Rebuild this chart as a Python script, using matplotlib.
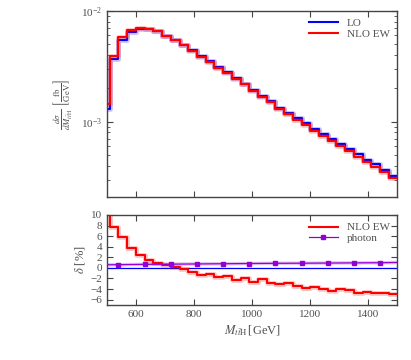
import matplotlib

matplotlib.use("Agg")
import matplotlib.pyplot as plt
import numpy as np
from matplotlib.ticker import FixedLocator, LogLocator, NullFormatter

plt.rcParams["font.family"] = ["Liberation Serif", "DejaVu Serif"]
plt.rcParams["mathtext.fontset"] = "stix"

# 30 GeV bins, first one cut by the x range
bin_edges = np.arange(480, 1501, 30)
lo_xsec = [1.29e-3, 3.66e-3, 5.50e-3, 6.49e-3, 6.89e-3, 6.82e-3, 6.53e-3, 5.95e-3, 5.49e-3, 4.91e-3,
           4.42e-3, 3.92e-3, 3.50e-3, 3.13e-3, 2.78e-3, 2.48e-3, 2.21e-3, 1.94e-3, 1.72e-3, 1.545e-3,
           1.34e-3, 1.205e-3, 1.076e-3, 9.78e-4, 8.61e-4, 7.79e-4, 7.05e-4, 6.28e-4, 5.63e-4, 5.07e-4,
           4.55e-4, 4.12e-4, 3.71e-4, 3.24e-4]
nlo_xsec = [1.46e-3, 3.94e-3, 5.82e-3, 6.73e-3, 7.06e-3, 6.92e-3, 6.59e-3, 5.98e-3, 5.50e-3, 4.90e-3,
            4.38e-3, 3.87e-3, 3.46e-3, 3.08e-3, 2.74e-3, 2.43e-3, 2.17e-3, 1.89e-3, 1.68e-3, 1.50e-3,
            1.30e-3, 1.17e-3, 1.04e-3, 9.4e-4, 8.3e-4, 7.48e-4, 6.74e-4, 6.03e-4, 5.40e-4, 4.83e-4,
            4.35e-4, 3.93e-4, 3.53e-4, 3.08e-4]
nlo_delta = [13.0, 7.7, 5.8, 3.7, 2.4, 1.5, 0.9, 0.45, 0.15, -0.15,
             -0.8, -1.3, -1.2, -1.75, -1.6, -2.2, -2.0, -2.7, -2.1, -2.9,
             -3.1, -2.9, -3.35, -3.85, -3.55, -4.0, -4.45, -4.0, -4.1, -4.7,
             -4.5, -4.7, -4.75, -4.9]
photon_x = [500, 540, 630, 720, 810, 900, 990, 1080, 1170, 1260, 1350, 1440, 1500]
photon_delta = [0.58, 0.60, 0.66, 0.70, 0.74, 0.78, 0.82, 0.86, 0.88, 0.91, 0.94, 0.97, 1.02]

BLUE = "#0000ff"
RED = "#ff0000"
PURPLE = "#9400d3"
FRAME = "#444444"
TEXT = "#505050"


def _step(ax, edges, vals, color, label=None, lw=1.5):
    y = np.append(vals, vals[-1])
    ax.step(edges, y, where="post", color=color, lw=lw + 2.0, alpha=0.22)
    ax.step(edges, y, where="post", color=color, lw=lw, label=label)


def _style(ax):
    for s in ax.spines.values():
        s.set_color(FRAME)
        s.set_linewidth(1.0)
    ax.tick_params(which="both", direction="in", top=True, right=True, colors=FRAME,
                   labelcolor=TEXT, labelsize=8)
    ax.tick_params(which="major", length=4)
    ax.tick_params(which="minor", length=2)


fig = plt.figure(figsize=(4.11, 3.6), dpi=100)
ax1 = fig.add_axes([0.260, 0.453, 0.707, 0.517])
ax2 = fig.add_axes([0.260, 0.153, 0.707, 0.250])

_step(ax1, bin_edges, lo_xsec, BLUE, "LO")
_step(ax1, bin_edges, nlo_xsec, RED, "NLO EW")
ax1.set_yscale("log")
ax1.set_xlim(500, 1500)
ax1.set_ylim(2.1e-4, 1e-2)
ax1.xaxis.set_major_locator(FixedLocator([600, 800, 1000, 1200, 1400]))
ax1.set_xticklabels([])
ax1.yaxis.set_major_locator(LogLocator(base=10, numticks=5))
ax1.yaxis.set_minor_locator(LogLocator(base=10, subs=np.arange(2, 10), numticks=10))
ax1.yaxis.set_minor_formatter(NullFormatter())
_style(ax1)
ax1.set_ylabel(r"$\frac{d\sigma}{dM_{t\bar{t}\mathrm{H}}}\;\left[\frac{\mathrm{fb}}{\mathrm{GeV}}\right]$",
               color=TEXT, fontsize=9, labelpad=4)
ax1.legend(loc="upper right", frameon=False, fontsize=8, handlelength=2.6,
           handletextpad=0.8, borderaxespad=0.3, labelspacing=0.1, labelcolor=TEXT)

ax2.axhline(0, color=BLUE, lw=0.9)
_step(ax2, bin_edges, nlo_delta, RED, "NLO EW")
ax2.plot(photon_x, photon_delta, color=PURPLE, lw=2.5, alpha=0.25)
ax2.plot(photon_x, photon_delta, color=PURPLE, lw=0.9, marker="s", markersize=3,
         markevery=slice(1, -1), label="photon")
ax2.set_xlim(500, 1500)
ax2.set_ylim(-7, 10)
ax2.xaxis.set_major_locator(FixedLocator([600, 800, 1000, 1200, 1400]))
ax2.yaxis.set_major_locator(FixedLocator(list(range(-6, 11, 2))))
_style(ax2)
ax2.set_ylabel(r"$\delta$ [%]", color=TEXT, fontsize=9, labelpad=2)
ax2.set_xlabel(r"$M_{t\bar{t}\mathrm{H}}\,$[GeV]", color=TEXT, fontsize=9, labelpad=3)
ax2.legend(loc="upper right", frameon=False, fontsize=8, handlelength=2.6,
           handletextpad=0.8, borderaxespad=0.3, labelspacing=0.1, labelcolor=TEXT)

fig.savefig("out.png", dpi=100)
plt.close(fig)
